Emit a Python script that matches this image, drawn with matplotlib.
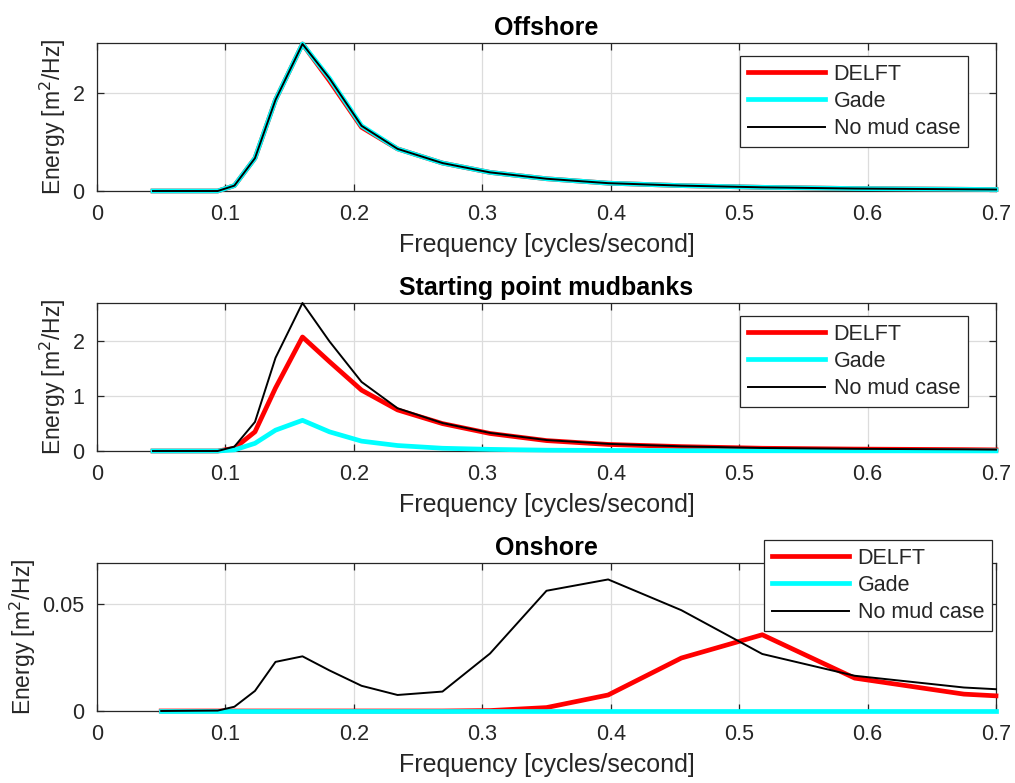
import numpy as np
import matplotlib
matplotlib.use('Agg')
import matplotlib.pyplot as plt

plt.rcParams['font.family'] = ['Liberation Sans', 'DejaVu Sans']

# frequencies [cycles/second]
freq = [0.0436, 0.050, 0.094, 0.107, 0.123, 0.139, 0.160, 0.181, 0.206, 0.234,
        0.269, 0.306, 0.350, 0.398, 0.455, 0.518, 0.590, 0.675, 0.700]
freq_on = freq[1:]

# Offshore
off_delft = [0, 0, 0, 0.11, 0.67, 1.86, 3.0, 2.25, 1.30, 0.86, 0.57, 0.38, 0.25, 0.16, 0.11, 0.075, 0.05, 0.035, 0.03]
off_gade = [0, 0, 0, 0.11, 0.67, 1.86, 3.0, 2.30, 1.33, 0.86, 0.57, 0.38, 0.25, 0.16, 0.11, 0.075, 0.05, 0.035, 0.03]
off_nomud = [0, 0, 0, 0.11, 0.67, 1.86, 3.0, 2.30, 1.33, 0.86, 0.57, 0.38, 0.25, 0.16, 0.11, 0.075, 0.05, 0.035, 0.03]

# Starting point mudbanks
mid_delft = [0, 0, 0, 0.05, 0.35, 1.15, 2.08, 1.63, 1.11, 0.75, 0.50, 0.32, 0.19, 0.12, 0.08, 0.05, 0.035, 0.025, 0.02]
mid_gade = [0, 0, 0, 0.02, 0.14, 0.38, 0.56, 0.35, 0.18, 0.10, 0.05, 0.03, 0.015, 0.01, 0.006, 0.004, 0.003, 0.002, 0.002]
mid_nomud = [0, 0, 0, 0.08, 0.53, 1.70, 2.70, 2.00, 1.26, 0.78, 0.51, 0.33, 0.20, 0.13, 0.085, 0.055, 0.04, 0.03, 0.025]

# Onshore
on_delft = [0, 0, 0, 0, 0, 0, 0, 0, 0, 0, 0.0002, 0.0016, 0.0075, 0.0248, 0.0357, 0.0154, 0.0079, 0.0071]
on_gade = [0] * 18
on_nomud = [0, 0.0002, 0.002, 0.0094, 0.023, 0.0256, 0.019, 0.0118, 0.0075, 0.0091,
            0.0269, 0.0563, 0.0616, 0.0472, 0.0267, 0.0165, 0.011, 0.0102]

titles = ['Offshore', 'Starting point mudbanks', 'Onshore']
labels = ['DELFT', 'Gade', 'No mud case']
yticks = [[0, 2], [0, 1, 2], [0, 0.05]]
ylims = [3.02, 2.7, 0.0693]

panels = [
    (freq, off_delft, off_gade, off_nomud),
    (freq, mid_delft, mid_gade, mid_nomud),
    (freq_on, on_delft, on_gade, on_nomud),
]

W, H = 1015, 783
fig = plt.figure(figsize=(W / 100, H / 100), dpi=100)

# axes boxes in pixels: (left, top, right, bottom)
boxes = [(97, 43, 996, 191), (97, 303, 996, 451), (97, 563, 996, 711)]
leg_pos = [(740, 56), (740, 316), (764, 540)]

txt = '#262626'
for i, (f, d, g, n) in enumerate(panels):
    l, t, r, b = boxes[i]
    ax = fig.add_axes([l / W, 1 - b / H, (r - l) / W, (b - t) / H])
    ax.plot(f, d, color='red', lw=3.4, label=labels[0], clip_on=False, zorder=3)
    ax.plot(f, g, color='cyan', lw=3.4, label=labels[1], clip_on=False, zorder=3.1)
    ax.plot(f, n, color='black', lw=1.4, label=labels[2], clip_on=False, zorder=3.2)
    ax.set_xlim(0, 0.7)
    ax.set_ylim(0, ylims[i])
    ax.set_xticks(np.arange(0, 0.71, 0.1))
    ax.set_xticklabels(['0', '0.1', '0.2', '0.3', '0.4', '0.5', '0.6', '0.7'])
    ax.set_yticks(yticks[i])
    ax.set_yticklabels([str(v) for v in yticks[i]])
    ax.grid(True, color='#dcdcdc', lw=0.9)
    ax.set_axisbelow(True)
    ax.tick_params(direction='in', length=5, width=0.9, colors='#262626',
                   labelsize=15.5, top=True, right=True, pad=9)
    for s in ax.spines.values():
        s.set_color('#262626')
        s.set_linewidth(0.9)
    ax.set_title(titles[i], fontsize=18, fontweight='bold', pad=6)
    ax.set_xlabel('Frequency [cycles/second]', fontsize=18, color=txt, labelpad=6)
    ax.set_ylabel('Energy [m$^2$/Hz]', fontsize=16.5, color=txt, labelpad=3)
    lx, ly = leg_pos[i]
    leg = ax.legend(loc='upper left', bbox_to_anchor=(lx / W, 1 - ly / H),
                    bbox_transform=fig.transFigure, fontsize=15.5, frameon=True,
                    fancybox=False, framealpha=1, edgecolor='#262626',
                    handlelength=3.6, handletextpad=0.4, labelspacing=0.3,
                    borderpad=0.35, borderaxespad=0)
    leg.set_zorder(5)
    leg.get_frame().set_linewidth(0.9)
    for tx in leg.get_texts():
        tx.set_color(txt)

fig.savefig('out.png', dpi=100)
